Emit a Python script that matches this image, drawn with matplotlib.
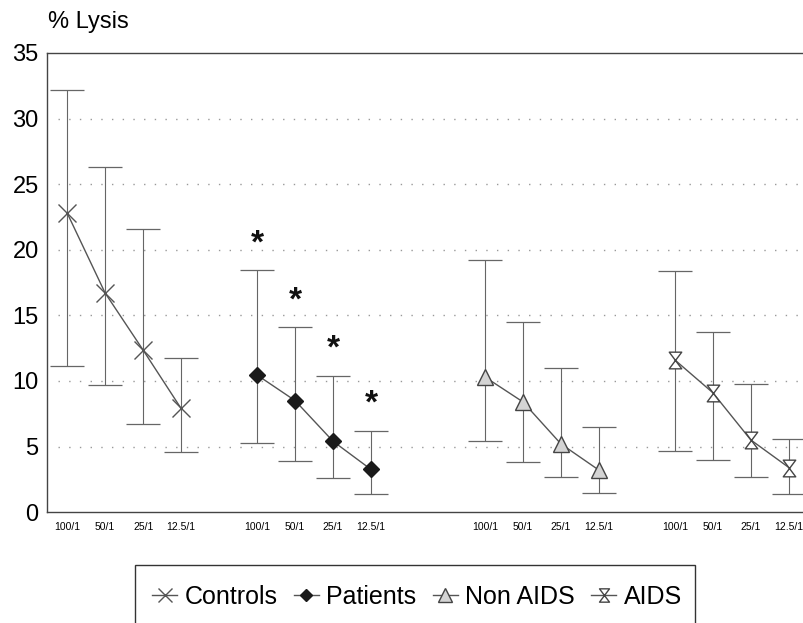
import numpy as np
import matplotlib.pyplot as plt
from matplotlib.patches import Rectangle
from matplotlib.path import Path

plt.rcParams['font.family'] = ['Liberation Sans', 'DejaVu Sans']

# Data
ratios = ['100/1', '50/1', '25/1', '12.5/1']
groups = ['Controls', 'Patients', 'Non AIDS', 'AIDS']
group_start = [0, 5, 11, 16]

controls_mean = [22.8, 16.7, 12.35, 7.9]
controls_low = [11.15, 9.7, 6.7, 4.6]
controls_high = [32.2, 26.3, 21.6, 11.75]

patients_mean = [10.45, 8.5, 5.4, 3.25]
patients_low = [5.23, 3.9, 2.6, 1.4]
patients_high = [18.45, 14.1, 10.4, 6.2]

nonaids_mean = [10.3, 8.4, 5.2, 3.2]
nonaids_low = [5.4, 3.85, 2.64, 1.42]
nonaids_high = [19.25, 14.5, 10.95, 6.5]

aids_mean = [11.6, 9.1, 5.5, 3.4]
aids_low = [4.67, 3.96, 2.64, 1.37]
aids_high = [18.4, 13.75, 9.8, 5.56]

star_offset = 2.0

# hourglass marker (down triangle over up triangle)
hourglass = Path([(-0.75, 1), (0.75, 1), (-0.75, -1), (0.75, -1), (-0.75, 1)],
                 [Path.MOVETO, Path.LINETO, Path.LINETO, Path.LINETO, Path.CLOSEPOLY])

means = [controls_mean, patients_mean, nonaids_mean, aids_mean]
lows = [controls_low, patients_low, nonaids_low, aids_low]
highs = [controls_high, patients_high, nonaids_high, aids_high]
styles = [
    dict(marker='x', ms=13, mfc='none', mec='#555555', mew=1.0),
    dict(marker='D', ms=8, mfc='#1a1a1a', mec='#1a1a1a', mew=1.0),
    dict(marker='^', ms=12, mfc='#d4d4d4', mec='#444444', mew=1.0),
    dict(marker=hourglass, ms=12, mfc='white', mec='#444444', mew=1.0),
]

fig = plt.figure(figsize=(8.04, 6.23), dpi=100)
ax = fig.add_axes([0.0585, 0.178, 0.9415, 0.737])

handles = []
for k in range(4):
    x = np.arange(4) + group_start[k]
    m = np.array(means[k])
    err = [m - np.array(lows[k]), np.array(highs[k]) - m]
    ax.errorbar(x, m, yerr=err, fmt='none', ecolor='#666666', elinewidth=0.8,
                capsize=12, capthick=0.9, zorder=2)
    h, = ax.plot(x, m, color='#555555', lw=1.0, zorder=3, label=groups[k], **styles[k])
    handles.append(h)

# significance stars above patients
for xi, hi in zip(np.arange(4) + group_start[1], patients_high):
    ax.text(xi, hi + star_offset, '*', ha='center', va='center', fontsize=24,
            fontweight='bold', color='#111111')

ax.set_ylim(0, 35)
ax.set_xlim(-0.53, 19.4)
ax.set_yticks(np.arange(0, 36, 5))
ax.tick_params(axis='y', length=0, labelsize=17, pad=6)
ticks = np.concatenate([np.arange(4) + s for s in group_start])
ax.set_xticks(ticks)
ax.set_xticklabels(ratios * 4, fontsize=7.5)
ax.tick_params(axis='x', length=0, pad=7)

for y in range(5, 35, 5):
    ax.axhline(y, xmin=0.015, color='#999999', lw=1.0, ls=(0, (1, 6.7)), zorder=0)

ax.spines['right'].set_visible(False)
for s in ['left', 'top', 'bottom']:
    ax.spines[s].set_color('#444444')
    ax.spines[s].set_linewidth(1.0)

fig.text(0.06, 0.965, '% Lysis', fontsize=17, va='center', ha='left')

# legend box running off the bottom edge
fig.patches.append(Rectangle((135 / 804, -0.1), 560 / 804, 0.1 + (623 - 565) / 623,
                             transform=fig.transFigure, fill=False, ec='#333333', lw=1.0))
fig.legend(handles=handles, loc='center', bbox_to_anchor=(417 / 804, 1 - 597 / 623),
           ncol=4, frameon=False, fontsize=18, handlelength=1.0, handletextpad=0.3,
           columnspacing=0.65, markerscale=0.8)

fig.savefig('out.png', dpi=100)
